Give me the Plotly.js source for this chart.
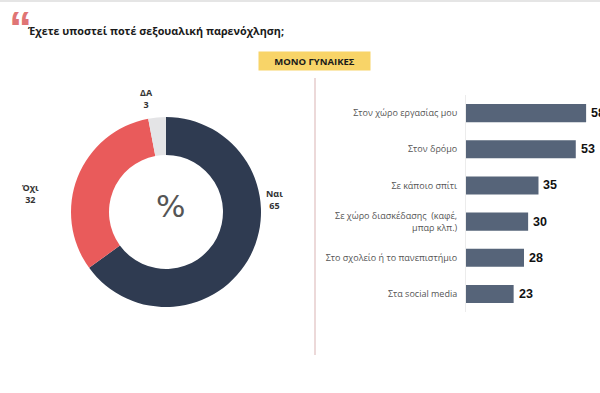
<!DOCTYPE html>
<html>
<head>
<meta charset="utf-8">
<script src="https://cdn.plot.ly/plotly-3.0.1.min.js"></script>
<style>html,body{margin:0;padding:0;background:#fff;}#chart{width:600px;height:393px;}</style>
</head>
<body>
<div id="chart"></div>
<script>
// ---- data ----
var titleText = "Έχετε υποστεί ποτέ σεξουαλική παρενόχληση;";
var badgeText = "ΜΟΝΟ ΓΥΝΑΙΚΕΣ";
var pieLabels = ["Ναι", "Όχι", "ΔΑ"];
var pieValues = [65, 32, 3];
var pieColors = ["#2f3b51", "#e95b5b", "#e4e4e6"];
var barCategories = [
  "Στον χώρο εργασίας μου",
  "Στον δρόμο",
  "Σε κάποιο σπίτι",
  "Σε χώρο διασκέδασης  (καφέ,<br>μπαρ κλπ.)",
  "Στο σχολείο ή το πανεπιστήμιο",
  "Στα social media"
];
var barValues = [58, 53, 35, 30, 28, 23];

var FONT = "Open Sans, Noto Sans, DejaVu Sans, sans-serif";
var W = 600, H = 393;
function px(x){ return x / W; }
function py(y){ return 1 - y / H; }

var pieTrace = {
  type: "pie",
  labels: pieLabels,
  values: pieValues,
  marker: { colors: pieColors, line: { width: 0 } },
  hole: 0.6,
  sort: false,
  direction: "clockwise",
  rotation: 0,
  textinfo: "none",
  hoverinfo: "label+value",
  showlegend: false,
  domain: { x: [px(166 - 95), px(166 + 95)], y: [py(307), py(117)] }
};

var barTrace = {
  type: "bar",
  orientation: "h",
  x: barValues,
  y: barCategories,
  width: 0.5,
  marker: { color: "#566479" },
  xaxis: "x",
  yaxis: "y",
  showlegend: false,
  hoverinfo: "x+y"
};

var annotations = [];
// value labels next to bars, placed through the axes
barValues.forEach(function(v, i){
  annotations.push({
    xref: "x", yref: "y", x: v, y: barCategories[i],
    xanchor: "left", yanchor: "middle", xshift: 3,
    text: "<b>" + v + "</b>", showarrow: false,
    font: { family: "Liberation Sans, Arial, sans-serif", size: 12.5, color: "#111" }
  });
});
// pie label positions (paper px)
var pieLabelPos = [[274, 199], [30, 193], [146, 98]];
pieLabels.forEach(function(l, i){
  annotations.push({
    xref: "paper", yref: "paper",
    x: px(pieLabelPos[i][0]), y: py(pieLabelPos[i][1]),
    xanchor: "center", yanchor: "middle",
    text: "<b>" + l + "<br>" + pieValues[i] + "</b>",
    showarrow: false, align: "center",
    font: { family: FONT, size: 9, color: "#333" }
  });
});
annotations.push({
  xref: "paper", yref: "paper", x: px(170), y: py(206),
  xanchor: "center", yanchor: "middle",
  text: "%", showarrow: false,
  font: { family: "DejaVu Sans, sans-serif", size: 31, color: "#555" }
});
annotations.push({
  xref: "paper", yref: "paper", x: px(26), y: py(30),
  xanchor: "left", yanchor: "middle",
  text: "<b>" + titleText + "</b>", showarrow: false,
  font: { family: FONT, size: 10.8, color: "#1a1a1a" }
});
annotations.push({
  xref: "paper", yref: "paper", x: px(20), y: py(1),
  xanchor: "center", yanchor: "top", borderpad: 0,
  text: "<b>“</b>", showarrow: false,
  font: { family: "Liberation Sans, Arial, sans-serif", size: 46, color: "#e07575" }
});
annotations.push({
  xref: "paper", yref: "paper", x: px(314.5), y: py(61),
  xanchor: "center", yanchor: "middle",
  text: "<b>" + badgeText + "</b>", showarrow: false,
  width: 111, height: 18, bgcolor: "#f8d468", borderpad: 0,
  font: { family: FONT, size: 9.5, color: "#1a1a1a" }
});

var layout = {
  width: W, height: H,
  margin: { l: 0, r: 0, t: 0, b: 0 },
  paper_bgcolor: "#ffffff",
  plot_bgcolor: "rgba(0,0,0,0)",
  font: { family: FONT },
  xaxis: {
    domain: [px(466), 1],
    range: [0, 64.7],
    showgrid: false, zeroline: false, showticklabels: false, showline: false, ticks: ""
  },
  yaxis: {
    domain: [py(312), py(95)],
    autorange: "reversed",
    type: "category",
    showgrid: false, zeroline: false,
    showline: true, linecolor: "#ececec", linewidth: 1,
    ticks: "", ticklabelstandoff: 6,
    tickfont: { family: FONT, size: 9, color: "#555" }
  },
  shapes: [
    { type: "line", xref: "paper", yref: "paper", x0: 0, x1: 1, y0: py(1), y1: py(1),
      line: { color: "#dcdcdc", width: 1.5 } },
    { type: "line", xref: "paper", yref: "paper", x0: px(315), x1: px(315), y0: py(78), y1: py(355),
      line: { color: "#e6cccc", width: 1.5 } }
  ],
  annotations: annotations
};

Plotly.newPlot("chart", [pieTrace, barTrace], layout, { displayModeBar: false, staticPlot: true });
</script>
</body>
</html>
